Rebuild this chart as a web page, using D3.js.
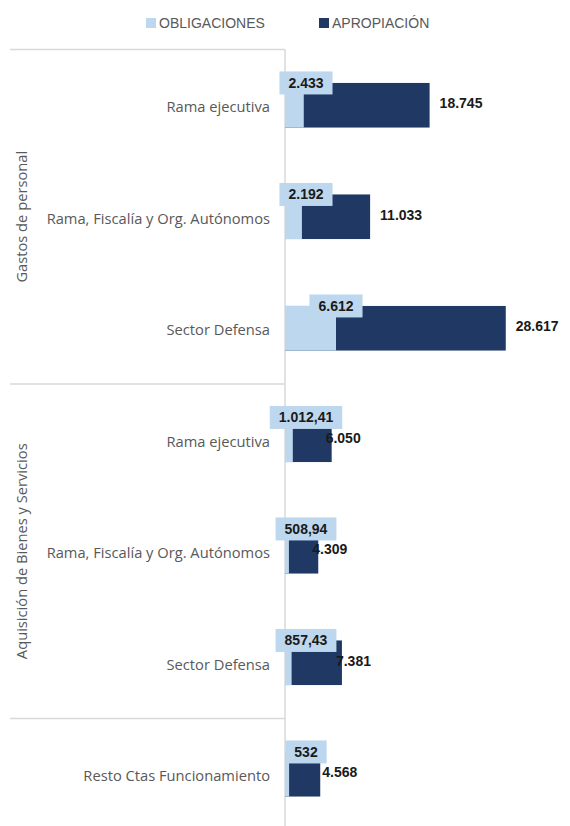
<!DOCTYPE html>
<html>
<head>
<meta charset="utf-8">
<script src="https://cdn.jsdelivr.net/npm/d3@7"></script>
<style>
  body { margin: 0; background: #fff; }
  text { font-family: "Liberation Sans", Arial, sans-serif; }
  .cat { font-family: "Open Sans", "Liberation Sans", sans-serif; }
</style>
</head>
<body>
<script>
'use strict';

// chart data
const groups = ["Gastos de personal", "Aquisición de Bienes y Servicios", ""];
const categories = [
  "Rama ejecutiva",
  "Rama, Fiscalía y Org. Autónomos",
  "Sector Defensa",
  "Rama ejecutiva",
  "Rama, Fiscalía y Org. Autónomos",
  "Sector Defensa",
  "Resto Ctas Funcionamiento"
];
const categoryGroup = [0, 0, 0, 1, 1, 1, 2];
const obligaciones = [2433, 2192, 6612, 1012.41, 508.94, 857.43, 532];
const apropiacion = [18745, 11033, 28617, 6050, 4309, 7381, 4568];
const seriesNames = ["OBLIGACIONES", "APROPIACIÓN"];

// map size
let width = 570,
  height = 826;

const lightBlue = "#bdd7ee",
  darkBlue = "#203864",
  gridGray = "#d9d9d9",
  textGray = "#595959";

// spanish number format
const locale = d3.formatLocale({ decimal: ",", thousands: ".", grouping: [3], currency: ["", ""] });
const fmtInt = locale.format(",.0f"),
  fmtDec = locale.format(",.2f");
function fmt(v) {
  return Number.isInteger(v) ? fmtInt(v) : fmtDec(v);
}

let svg = d3.select("body")
  .append("svg")
  .attr("width", width)
  .attr("height", height);

let x = d3.scaleLinear().domain([0, 35000]).range([285, 555]);
let y = d3.scaleBand()
  .domain(d3.range(categories.length))
  .range([49.5, 830])
  .paddingInner(0.6)
  .paddingOuter(0.3);

let rows = categories.map((c, i) => ({
  i: i, name: c, group: categoryGroup[i],
  obl: obligaciones[i], apr: apropiacion[i]
}));

// legend
let legend = svg.append("g");
[[146, lightBlue], [319, darkBlue]].forEach((d, i) => {
  legend.append("rect")
    .attr("x", d[0]).attr("y", 18)
    .attr("width", 10).attr("height", 10)
    .attr("fill", d[1]);
  legend.append("text")
    .attr("x", d[0] + 13).attr("y", 28)
    .attr("font-size", "14px")
    .attr("fill", textGray)
    .text(seriesNames[i]);
});

// group separator lines
let groupStarts = groups.map((g, gi) => categoryGroup.indexOf(gi));
svg.append("g")
  .selectAll("line")
  .data(groupStarts)
  .join("line")
  .attr("x1", 10).attr("x2", x(0))
  .attr("y1", d => y(d) - y.step() * y.paddingInner() / 2)
  .attr("y2", d => y(d) - y.step() * y.paddingInner() / 2)
  .attr("stroke", gridGray)
  .attr("stroke-width", 1.5);

// vertical axis line
svg.append("line")
  .attr("x1", x(0)).attr("x2", x(0))
  .attr("y1", y.range()[0]).attr("y2", height)
  .attr("stroke", gridGray)
  .attr("stroke-width", 1.5);

// apropiacion bars (behind)
svg.append("g")
  .selectAll("rect")
  .data(rows)
  .join("rect")
  .attr("x", x(0))
  .attr("y", d => y(d.i))
  .attr("width", d => x(d.apr) - x(0))
  .attr("height", y.bandwidth())
  .attr("fill", darkBlue);

// obligaciones bars (front)
svg.append("g")
  .selectAll("rect")
  .data(rows)
  .join("rect")
  .attr("x", x(0))
  .attr("y", d => y(d.i))
  .attr("width", d => x(d.obl) - x(0))
  .attr("height", y.bandwidth())
  .attr("fill", lightBlue);

// category labels
svg.append("g")
  .selectAll("text")
  .data(rows)
  .join("text")
  .attr("class", "cat")
  .attr("x", x(0) - 15)
  .attr("y", d => y(d.i) + y.bandwidth() / 2 + 2)
  .attr("dy", "0.35em")
  .attr("text-anchor", "end")
  .attr("font-size", "14.7px")
  .attr("fill", textGray)
  .text(d => d.name);

// group labels (rotated)
svg.append("g")
  .selectAll("text")
  .data(groups.map((g, gi) => ({ g: g, idx: d3.range(categories.length).filter(i => categoryGroup[i] === gi) })))
  .join("text")
  .attr("class", "cat")
  .attr("transform", d => {
    let cy = (y(d.idx[0]) + y(d.idx[d.idx.length - 1]) + y.bandwidth()) / 2;
    return "translate(22," + cy + ") rotate(-90)";
  })
  .attr("dy", "0.35em")
  .attr("text-anchor", "middle")
  .attr("font-size", "14.7px")
  .attr("fill", textGray)
  .text(d => d.g);

// obligaciones labels: boxed, centered on the top edge of the bar
let oblLabels = svg.append("g")
  .selectAll("g")
  .data(rows)
  .join("g");

oblLabels.append("rect").attr("fill", lightBlue);
oblLabels.append("text")
  .attr("text-anchor", "middle")
  .attr("dy", "0.35em")
  .attr("font-size", "14px")
  .attr("font-weight", "bold")
  .attr("fill", "#1a1a1a")
  .text(d => fmt(d.obl));

oblLabels.each(function (d) {
  let g = d3.select(this);
  let tw = g.select("text").node().getComputedTextLength();
  let cx = Math.max(x(d.obl), x(0) + 21);
  let cy = y(d.i);
  g.select("text").attr("x", cx).attr("y", cy);
  g.select("rect")
    .attr("x", cx - tw / 2 - 9)
    .attr("y", cy - 11.5)
    .attr("width", tw + 18)
    .attr("height", 23);
});

// apropiacion labels, right of the bar end
let labelShift = [10, -6, 2];
svg.append("g")
  .selectAll("text")
  .data(rows)
  .join("text")
  .attr("x", d => x(d.apr) + labelShift[d.group])
  .attr("y", d => y(d.i) + y.bandwidth() / 2 - 2)
  .attr("dy", "0.35em")
  .attr("font-size", "14px")
  .attr("font-weight", "bold")
  .attr("fill", "#1a1a1a")
  .text(d => fmt(d.apr));
</script>
</body>
</html>
